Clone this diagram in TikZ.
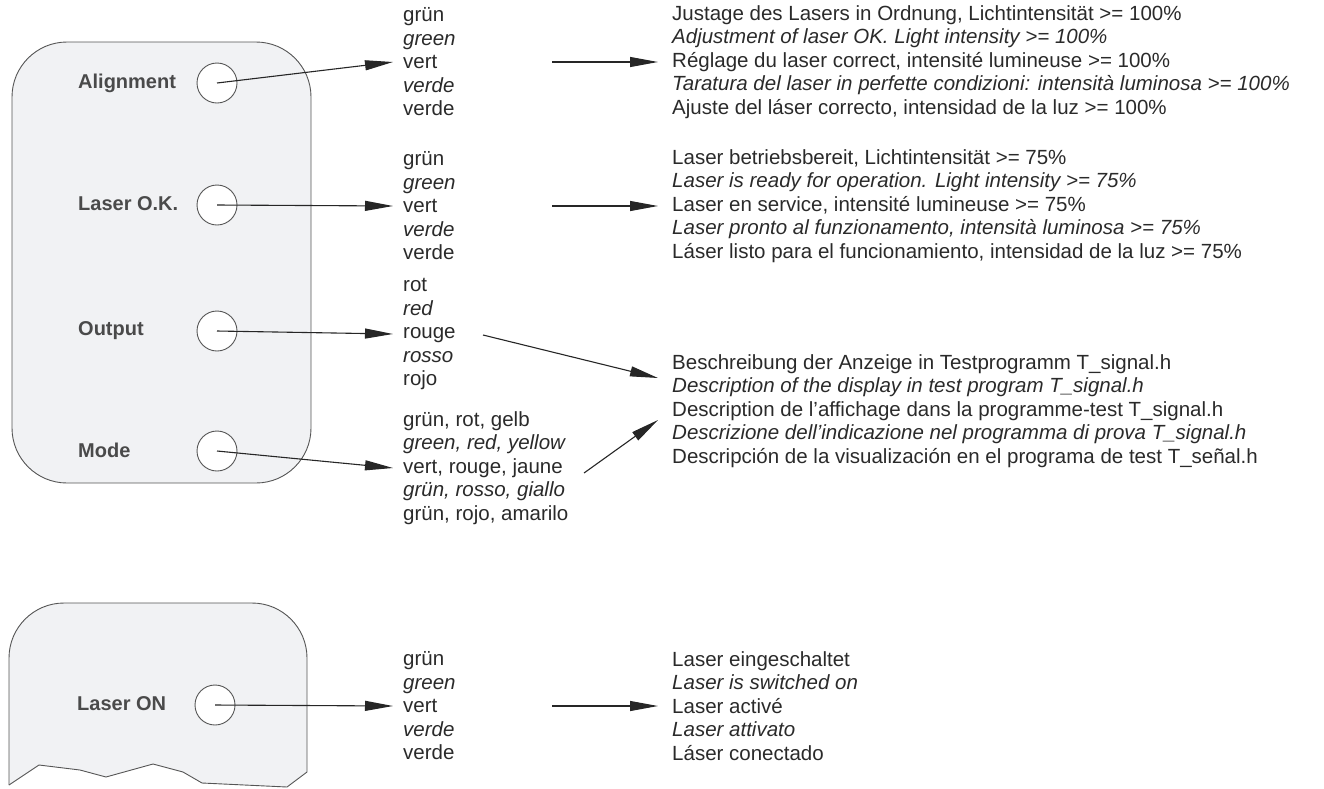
\documentclass[tikz,border=0pt]{standalone}
\usepackage{fontspec}
\setmainfont{Liberation Sans}
\usetikzlibrary{arrows.meta}
\definecolor{panelfill}{HTML}{F1F2F4}
\definecolor{panelline}{HTML}{555555}
\definecolor{txt}{HTML}{2A2A2A}
\definecolor{lblc}{HTML}{4A4A4A}
\begin{document}
\begin{tikzpicture}[x=1pt,y=-1pt,
  panel/.style={draw=panelline, fill=panelfill, line width=0.9pt},
  lbl/.style={anchor=west, inner sep=0pt, text=lblc, font=\fontsize{20}{23.5}\selectfont\bfseries},
  led/.style={circle, draw=panelline, fill=white, line width=0.9pt, minimum size=40pt, inner sep=0pt},
  blk/.style={anchor=west, align=left, inner xsep=10pt, inner ysep=0pt, text=txt, font=\fontsize{20.5}{23.5}\selectfont},
  desc/.style={blk, inner xsep=14pt},
  arr/.style={draw=black!85, line width=1.1pt, -{Triangle[length=28pt,width=10pt]}}]
\useasboundingbox (0,0) rectangle (1324,788);

% upper panel
\draw[panel, rounded corners=55pt] (12,42) rectangle (311,483);

% lower panel (torn bottom)
\begin{scope}
  \clip (0,590) -- (320,590) -- (320,772) -- (307,772) -- (287,787) -- (202,783) -- (183,772) -- (153,764) -- (106,777) -- (80,770) -- (39,765) -- (9,785) -- (0,785) -- cycle;
  \draw[panel, rounded corners=55pt] (9,603) rectangle (307,900);
\end{scope}
\draw[draw=panelline, line width=0.9pt, line join=round] (9,785) -- (39,765) -- (80,770) -- (106,777) -- (153,764) -- (183,772) -- (202,783) -- (287,787) -- (307,772);

% labels
\node[lbl] (lA) at (78,83) {Alignment};
\node[lbl] (lB) at (78,204) {Laser O.K.};
\node[lbl] (lC) at (78,331) {Output};
\node[lbl] (lD) at (78,450) {Mode};
\node[lbl] (lE) at (77,704) {Laser ON};

% indicator circles
\node[led] (cA) at (217,83) {};
\node[led] (cB) at (217,205) {};
\node[led] (cC) at (217,331) {};
\node[led] (cD) at (217,451) {};
\node[led] (cE) at (215,705) {};

% colour blocks
\node[blk] (tA) at (393,62) {grün\\\textit{green}\\vert\\\textit{verde}\\verde};
\node[blk] (tB) at (393,206) {grün\\\textit{green}\\vert\\\textit{verde}\\verde};
\node[blk] (tC) at (393,334) {rot\\\textit{red}\\rouge\\\textit{rosso}\\rojo};
\node[blk] (tD) at (393,468) {grün, rot, gelb\\\textit{green, red, yellow}\\vert, rouge, jaune\\\textit{grün, rosso, giallo}\\grün, rojo, amarilo};
\node[blk] (tE) at (393,706) {grün\\\textit{green}\\vert\\\textit{verde}\\verde};

% description blocks
\node[desc] (rA) at (658,62) {Justage des Lasers in Ordnung, Lichtintensität >= 100\%\\\textit{Adjustment of laser OK. Light intensity >= 100\%}\\Réglage du laser correct, intensité lumineuse >= 100\%\\\textit{Taratura del laser in perfette condizioni: intensità luminosa >= 100\%}\\Ajuste del láser correcto, intensidad de la luz >= 100\%};
\node[desc] (rB) at (658,206) {Laser betriebsbereit, Lichtintensität >= 75\%\\\textit{Laser is ready for operation. Light intensity >= 75\%}\\Laser en service, intensité lumineuse >= 75\%\\\textit{Laser pronto al funzionamento, intensità luminosa >= 75\%}\\Láser listo para el funcionamiento, intensidad de la luz >= 75\%};
\node[desc] (rC) at (658,411) {Beschreibung der Anzeige in Testprogramm T\_signal.h\\\textit{Description of the display in test program T\_signal.h}\\Description de l’affichage dans la programme-test T\_signal.h\\\textit{Descrizione dell’indicazione nel programma di prova T\_signal.h}\\Descripción de la visualización en el programa de test T\_señal.h};
\node[desc] (rE) at (658,706) {Laser eingeschaltet\\\textit{Laser is switched on}\\Laser activé\\\textit{Laser attivato}\\Láser conectado};

% arrows from indicators
\draw[arr] (cA.center) -- (tA.west);
\draw[arr] (cB.center) -- (tB.west);
\draw[arr] (cC.center) -- (tC.west);
\draw[arr] (cD.center) -- (tD.west);
\draw[arr] (cE.center) -- (tE.west);

% arrows to descriptions
\coordinate (sA) at (552,62);
\coordinate (sB) at (552,206);
\coordinate (sE) at (552,706);
\coordinate (sC) at (483,335);
\coordinate (sD) at (584,473);
\coordinate (eC) at (658,378);
\coordinate (eD) at (658,420);
\draw[arr] (sA) -- (rA.west);
\draw[arr] (sB) -- (rB.west);
\draw[arr] (sE) -- (rE.west);
\draw[arr] (sC) -- (eC);
\draw[arr] (sD) -- (eD);
\end{tikzpicture}
\end{document}
